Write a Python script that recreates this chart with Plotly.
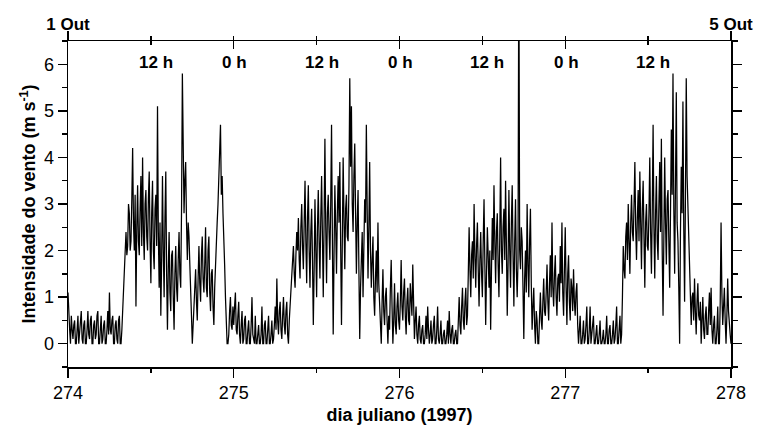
import plotly.graph_objects as go

day_start = 274.0
step = 0.005

day274 = [1.1, 0.4, 0.3, 0.0, 0.6, 0.3, 0.1, 0.4, 0.5, 0.0,
          0.0, 0.3, 0.6, 0.0, 0.2, 0.5, 0.7, 0.1, 0.0, 0.4,
          0.5, 0.0, 0.0, 0.3, 0.7, 0.2, 0.1, 0.5, 0.6, 0.0,
          0.0, 0.4, 0.5, 0.1, 0.2, 0.6, 0.7, 0.0, 0.0, 0.3,
          0.6, 0.0, 0.1, 0.4, 0.5, 0.0, 0.0, 0.3, 0.7, 0.2,
          1.1, 0.3, 0.2, 0.5, 0.6, 0.0, 0.0, 0.4, 0.5, 0.1,
          0.0, 0.5, 0.6, 0.0, 0.0, 0.3, 0.8, 1.2, 1.7, 2.3,
          2.4, 1.9, 2.1, 3.0, 2.8, 2.0, 2.2, 3.1, 4.2, 2.6,
          2.0, 3.2, 0.8, 2.5, 3.4, 2.2, 1.9, 2.9, 3.6, 2.1,
          4.0, 2.4, 1.8, 3.0, 3.3, 2.3, 2.0, 3.1, 3.7, 2.2,
          1.3, 2.8, 3.5, 2.0, 1.6, 2.9, 3.2, 2.1, 5.1, 2.4,
          1.2, 2.6, 0.6, 1.8, 3.6, 2.0, 1.0, 2.7, 3.7, 1.5,
          0.3, 1.6, 2.4, 1.1, 0.7, 1.9, 2.0, 1.0, 0.3, 1.5,
          2.1, 1.2, 0.9, 1.8, 2.4, 1.5, 1.2, 2.9, 5.8, 4.3,
          2.8, 3.5, 3.9, 2.6, 1.8, 2.6, 2.3, 1.7, 1.3, 0.6,
          0.0, 0.4, 0.8, 1.3, 1.6, 0.9, 0.5, 1.4, 2.1, 1.3,
          0.9, 1.9, 2.3, 1.4, 1.1, 1.7, 2.5, 1.2, 1.0, 2.0,
          2.3, 1.1, 0.7, 1.5, 1.6, 0.8, 0.4, 1.2, 1.8, 2.3,
          2.6, 3.0, 3.5, 4.0, 4.7, 3.2, 3.6, 2.8, 2.4, 1.7,
          1.0, 0.5, 0.0, 0.0, 0.2, 0.7, 1.0, 0.4, 0.3, 0.8]

day275 = [0.4, 0.8, 1.1, 0.3, 0.2, 0.6, 0.9, 0.2, 0.0, 0.4,
          0.7, 0.0, 0.1, 0.5, 0.6, 0.0, 0.0, 0.3, 0.5, 0.0,
          0.0, 0.4, 1.0, 0.2, 0.1, 0.0, 0.6, 0.0, 0.0, 0.3,
          0.4, 0.0, 0.0, 0.2, 0.8, 0.0, 0.0, 0.4, 0.5, 0.0,
          0.0, 0.3, 0.6, 0.0, 0.0, 0.2, 0.5, 0.0, 0.1, 0.4,
          0.8, 0.3, 1.4, 0.5, 0.2, 0.7, 0.9, 0.3, 0.1, 0.6,
          1.0, 0.4, 0.2, 0.7, 0.9, 0.2, 0.0, 0.5, 0.8, 1.1,
          1.4, 1.8, 2.1, 1.5, 1.2, 1.9, 2.4, 2.0, 2.7, 1.8,
          1.4, 2.5, 3.0, 2.1, 1.6, 2.6, 3.5, 2.2, 1.3, 2.7,
          3.4, 2.0, 1.2, 2.4, 2.9, 1.8, 0.4, 1.6, 3.1, 2.0,
          1.0, 2.5, 3.3, 2.2, 1.4, 2.7, 3.6, 2.3, 1.0, 2.6,
          4.4, 2.5, 1.3, 2.8, 3.2, 2.4, 1.8, 3.0, 4.7, 2.3,
          0.2, 1.9, 3.4, 2.5, 1.5, 2.8, 3.6, 2.6, 3.9, 2.1,
          0.4, 2.2, 4.0, 2.7, 1.6, 2.9, 3.2, 2.3, 2.2, 3.4,
          5.7, 3.8, 5.1, 3.0, 2.4, 3.6, 4.3, 2.8, 1.5, 2.6,
          3.3, 1.6, 0.1, 1.2, 1.8, 2.4, 1.0, 2.2, 3.1, 2.6,
          4.7, 2.9, 1.4, 2.5, 3.9, 2.0, 1.2, 1.8, 2.3, 1.0,
          0.6, 1.4, 2.0, 1.1, 2.6, 1.3, 0.8, 0.3, 0.0, 0.9,
          1.6, 0.7, 0.4, 1.0, 1.2, 0.5, 0.0, 0.6, 0.3, 1.2,
          1.8, 0.8, 0.0, 0.5, 1.3, 0.4, 0.2, 0.8, 1.1, 0.5]

day276 = [0.3, 0.9, 1.8, 0.8, 0.5, 1.1, 1.4, 0.6, 0.2, 0.9,
          1.2, 0.5, 0.4, 1.3, 1.0, 0.6, 1.7, 0.7, 0.1, 0.5,
          0.8, 0.2, 0.0, 0.4, 0.6, 0.1, 0.0, 0.3, 0.4, 0.0,
          0.0, 0.2, 0.6, 0.1, 0.8, 0.3, 0.0, 0.2, 0.5, 0.0,
          0.1, 0.4, 0.6, 0.0, 0.0, 0.3, 0.8, 0.1, 0.0, 0.2,
          0.5, 0.0, 0.0, 0.2, 0.3, 0.0, 0.0, 0.2, 0.5, 0.0,
          0.7, 0.2, 0.0, 0.3, 0.4, 0.0, 0.0, 0.2, 0.3, 0.0,
          0.0, 0.5, 1.0, 0.4, 0.2, 0.8, 1.2, 0.5, 0.3, 0.9,
          1.2, 0.4, 0.6, 1.5, 2.5, 1.6, 1.0, 1.9, 2.2, 1.4,
          3.0, 1.9, 1.2, 2.1, 2.6, 1.6, 0.8, 1.8, 2.4, 1.5,
          1.0, 2.2, 3.1, 1.7, 0.4, 1.5, 2.5, 1.9, 1.2, 2.0,
          0.3, 1.6, 2.7, 1.8, 3.4, 2.2, 1.3, 2.4, 2.8, 1.7,
          1.0, 2.3, 4.0, 2.0, 1.5, 2.5, 2.9, 1.8, 3.5, 2.1,
          0.6, 1.7, 3.3, 2.0, 1.2, 2.6, 3.4, 1.9, 0.8, 2.2,
          3.1, 1.6, 1.0, 1.8, 8.5, 2.0, 1.6, 2.5, 2.2, 1.2,
          0.1, 1.4, 2.0, 1.1, 3.0, 1.7, 1.0, 2.2, 2.9, 1.3,
          0.3, 0.8, 1.2, 0.4, 0.0, 0.7, 0.5, 0.0, 0.0, 0.6,
          1.1, 0.5, 0.3, 0.9, 1.4, 0.7, 0.6, 1.1, 1.7, 0.9,
          0.5, 1.3, 1.9, 1.0, 2.6, 1.2, 0.8, 1.5, 1.9, 1.0,
          0.6, 1.4, 1.5, 0.9, 2.1, 1.3, 2.6, 1.1, 0.6, 1.6]

day277 = [2.5, 1.2, 0.4, 1.5, 1.9, 0.9, 0.5, 1.4, 1.2, 0.7,
          1.6, 0.9, 0.6, 1.1, 1.3, 0.4, 0.0, 0.3, 0.6, 0.0,
          0.0, 0.2, 0.5, 0.0, 0.1, 0.4, 0.8, 0.0, 0.0, 0.3,
          0.8, 0.0, 0.2, 0.5, 0.6, 0.0, 0.0, 0.2, 0.4, 0.0,
          0.0, 0.2, 0.5, 0.0, 0.0, 0.1, 0.3, 0.0, 0.0, 0.2,
          0.6, 0.0, 0.0, 0.3, 0.4, 0.0, 0.0, 0.2, 0.5, 0.0,
          0.1, 0.4, 0.8, 0.0, 0.0, 0.3, 0.6, 0.0, 0.2, 1.0,
          2.1, 1.6, 1.4, 2.3, 2.6, 1.8, 3.0, 2.2, 1.5, 2.6,
          3.2, 2.4, 2.2, 3.0, 3.9, 2.5, 1.8, 2.7, 3.3, 2.2,
          3.7, 2.6, 1.6, 2.9, 3.5, 2.3, 1.2, 2.6, 3.0, 2.1,
          2.0, 2.8, 4.0, 2.4, 1.5, 2.9, 4.7, 2.5, 1.4, 2.8,
          3.6, 2.2, 1.8, 3.0, 3.9, 2.4, 4.4, 2.0, 0.6, 2.3,
          4.0, 2.6, 1.7, 3.1, 3.3, 2.2, 1.2, 2.8, 4.6, 3.2,
          5.8, 2.9, 1.5, 3.4, 5.4, 2.6, 2.2, 1.2, 0.0, 2.4,
          3.8, 2.8, 5.2, 2.5, 0.9, 3.1, 5.7, 3.6, 3.0, 2.1,
          1.5, 0.9, 0.4, 1.0, 1.1, 0.5, 1.4, 0.7, 0.2, 0.9,
          1.3, 0.6, 0.5, 0.9, 0.0, 0.5, 1.0, 0.3, 0.1, 0.6,
          0.8, 0.2, 0.2, 0.7, 1.1, 0.4, 1.2, 0.3, 0.0, 0.4,
          0.6, 0.0, 0.0, 0.3, 0.8, 0.0, 0.0, 0.9, 2.6, 1.1,
          0.4, 0.8, 1.2, 0.5, 0.0, 0.6, 1.4, 0.7, 0.3, 0.2,
          0.0]

x_ticks = [274, 275, 276, 277, 278]
x_labels = ["274", "275", "276", "277", "278"]
date_ticks = [274, 278]
date_labels = ["1 Out", "5 Out"]
midnight_ticks = [275, 276, 277]
midnight_labels = ["0 h", "0 h", "0 h"]
noon_ticks = [274.5, 275.5, 276.5, 277.5]
noon_labels = ["12 h", "12 h", "12 h", "12 h"]

speed = day274 + day275 + day276 + day277
days = [day_start + i * step for i in range(len(speed))]

FONT = "Liberation Sans, Arial, sans-serif"
BLACK = "black"

fig = go.Figure()
fig.add_trace(go.Scatter(x=days, y=speed, mode="lines",
                         line=dict(color=BLACK, width=1.25),
                         showlegend=False, hoverinfo="skip"))
for ax in ["x2", "x3", "x4"]:
    fig.add_trace(go.Scatter(x=[274, 278], y=[None, None], xaxis=ax, yaxis="y",
                             mode="lines", showlegend=False, hoverinfo="skip"))

# hour labels just under the top axis
for tv, tt in zip(noon_ticks, noon_labels):
    fig.add_annotation(x=tv, y=1, xref="x", yref="paper", text="<b>%s</b>" % tt,
                       showarrow=False, yanchor="middle", yshift=-21, xshift=5,
                       font=dict(family=FONT, size=17, color=BLACK))
for tv, tt in zip(midnight_ticks, midnight_labels):
    fig.add_annotation(x=tv, y=1, xref="x", yref="paper", text="<b>%s</b>" % tt,
                       showarrow=False, yanchor="middle", yshift=-21, xshift=1,
                       font=dict(family=FONT, size=17, color=BLACK))

rng = [274, 278]
tick_common = dict(tickwidth=1.3, tickcolor=BLACK, showgrid=False, zeroline=False,
                   automargin=False)
fig.update_layout(
    width=763, height=425,
    margin=dict(l=68, r=32, t=41, b=58),
    paper_bgcolor="white", plot_bgcolor="white",
    font=dict(family=FONT, size=18, color=BLACK),
    hovermode=False,
    xaxis=dict(range=rng, tickmode="array", tickvals=x_ticks, ticktext=x_labels,
               ticks="outside", ticklen=9,
               minor=dict(tickmode="linear", tick0=274, dtick=0.5, ticks="outside",
                          ticklen=4, tickwidth=1.3, tickcolor=BLACK),
               showline=True, linecolor=BLACK, linewidth=1.5,
               tickfont=dict(family=FONT, size=18, color=BLACK),
               title=dict(text="<b>dia juliano (1997)</b>", standoff=7,
                          font=dict(family=FONT, size=18, color=BLACK)),
               **tick_common),
    xaxis2=dict(range=rng, overlaying="x", side="top", anchor="y",
                tickmode="array", tickvals=date_ticks,
                ticktext=["<b>%s</b>" % t for t in date_labels],
                ticks="outside", ticklen=9, ticklabelstandoff=-6,
                minor=dict(tickmode="linear", tick0=274, dtick=0.5, ticks="outside",
                           ticklen=4, tickwidth=1.3, tickcolor=BLACK),
                showline=True, linecolor=BLACK, linewidth=1.5,
                tickfont=dict(family=FONT, size=17, color=BLACK),
                **tick_common),
    xaxis3=dict(range=rng, overlaying="x", side="top", anchor="y",
                tickmode="array", tickvals=midnight_ticks,
                ticks="inside", ticklen=8, showticklabels=False, showline=False,
                **tick_common),
    xaxis4=dict(range=rng, overlaying="x", side="top", anchor="y",
                tickmode="array", tickvals=noon_ticks,
                ticks="inside", ticklen=4, showticklabels=False, showline=False,
                **tick_common),
    yaxis=dict(range=[-0.5, 6.5], tickmode="linear", tick0=0, dtick=1,
               ticks="outside", ticklen=9,
               minor=dict(tickmode="linear", tick0=0.5, dtick=1, ticks="outside",
                          ticklen=5, tickwidth=1.3, tickcolor=BLACK),
               showline=True, linecolor=BLACK, linewidth=1.5, mirror="ticks",
               tickfont=dict(family=FONT, size=18, color=BLACK),
               title=dict(text="<b>Intensidade do vento (m s<sup>-1</sup>)</b>",
                          standoff=3, font=dict(family=FONT, size=18, color=BLACK)),
               **tick_common),
)

fig.write_html("out.html", config={"displayModeBar": False, "staticPlot": True},
               post_script="document.body.style.margin='0';")
